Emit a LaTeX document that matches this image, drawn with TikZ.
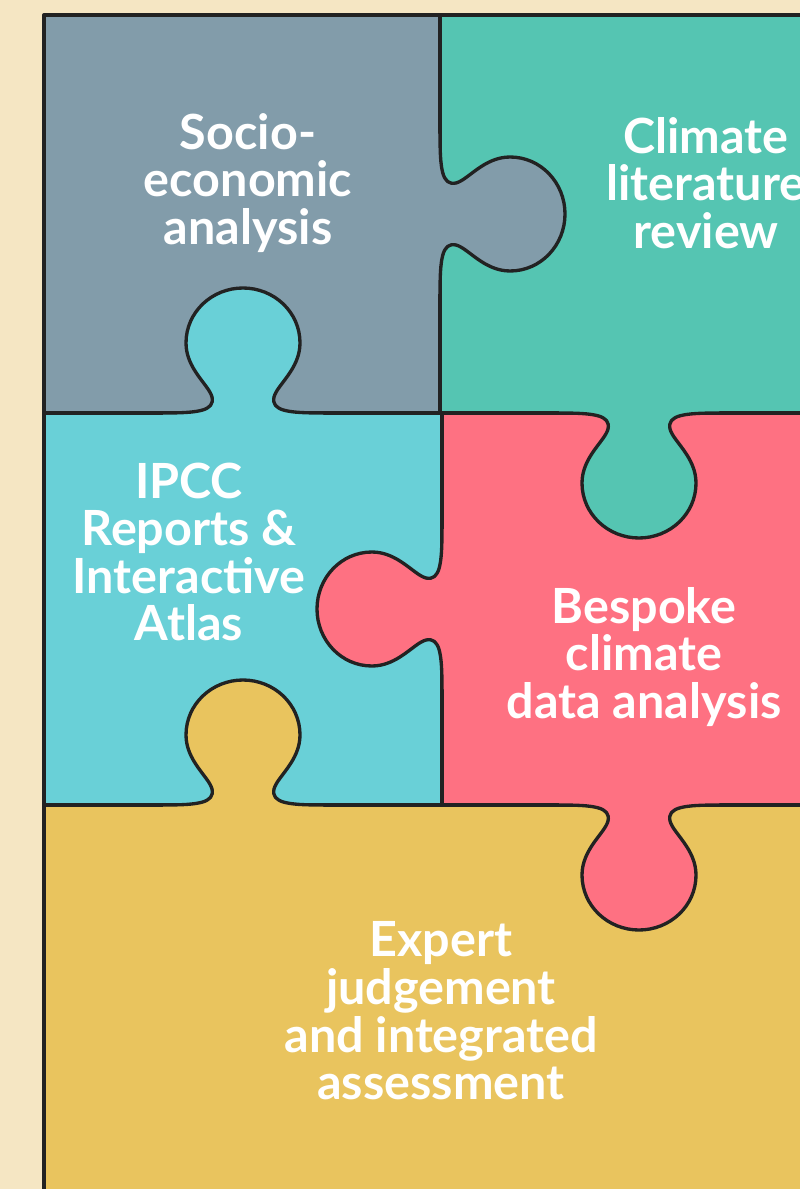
\documentclass[tikz,border=0pt]{standalone}
\usepackage{fontspec}
\setmainfont{Lato}
\usepackage{tikz}
\usepackage{xcolor}

\definecolor{creambg}{HTML}{F5E6C3}
\definecolor{greyc}{HTML}{829CAA}
\definecolor{tealc}{HTML}{55C5B2}
\definecolor{cyanc}{HTML}{69D0D7}
\definecolor{pinkc}{HTML}{FE7182}
\definecolor{yellowc}{HTML}{E9C45E}
\definecolor{inkline}{HTML}{222222}

% one puzzle knob, base on the x axis, bulging to +y
\newcommand{\knobcurve}{(-80,0) .. controls (-45,0) and (-28,2) .. (-31,16)
    .. controls (-34,28) and (-57,44) .. (-57,70)
    .. controls (-57,101) and (-31,125) .. (0,125)
    .. controls (31,125) and (57,101) .. (57,70)
    .. controls (57,44) and (34,28) .. (31,16)
    .. controls (28,2) and (45,0) .. (80,0)}

\begin{document}
\begin{tikzpicture}[x=0.02cm, y=-0.02cm,
    edge line/.style={line width=1.9pt, draw=inkline, line cap=round, line join=round},
    label text/.style={text=white, align=center, font=\fontsize{27.6}{27.1}\selectfont\bfseries},
    knob/.pic={
        \fill[#1] \knobcurve -- (80,-4) -- (-80,-4) -- cycle;
        \draw[edge line] \knobcurve;
    }]
                            \clip (0,0) rectangle (800,1189);
                            \fill[creambg] (0,0) rectangle (800,1189);
                            \fill[greyc] (44,15) rectangle (440,413);
                            \fill[tealc] (440,15) rectangle (810,413);
                            \fill[cyanc] (44,413) rectangle (442,805);
                            \fill[pinkc] (442,413) rectangle (810,805);
                            \fill[yellowc] (44,805) rectangle (810,1200);
                            \draw[edge line]
                            (440,15) -- (440,413)
                            (44,413) -- (810,413)
                            (442,413) -- (442,805)
                            (44,805) -- (810,805);
                            \foreach \x/\y/\r/\c in {440/214/90/greyc, 243/413/180/cyanc, 639/413/0/tealc,
                                442/609/-90/pinkc, 243/805/180/yellowc, 639/805/0/pinkc} {
                                \pic[rotate=\r] at (\x,\y) {knob=\c};
                            }
                            \draw[edge line] (44,1200) -- (44,15) -- (810,15);
                            \node[label text] (socio) at (248,183) {Socio-\\economic\\analysis};
                            \node[label text] (litreview) at (706,183) {Climate\\literature\\review};
                            \node[label text] (ipcc) at (189,552) {IPCC\\Reports \&\\Interactive\\Atlas};
                            \node[label text] (bespoke) at (644,657) {Bespoke\\climate\\data analysis};
                            \node[label text] (expert) at (441,1011) {Expert\\judgement\\and integrated\\assessment};
                        \end{tikzpicture}
\end{document}
